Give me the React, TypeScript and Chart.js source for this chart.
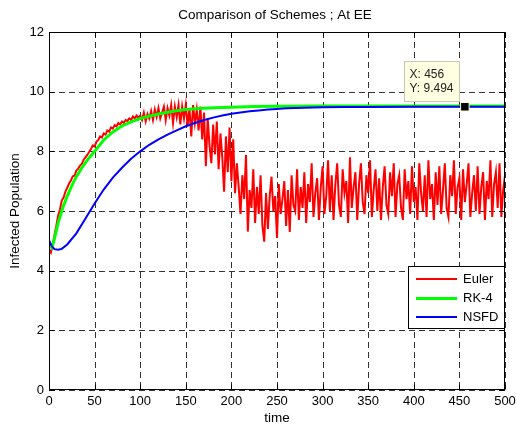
import { useEffect, useRef } from "react";
import { Chart, registerables } from "chart.js";

Chart.register(...registerables);

const chartTitle = "Comparison of Schemes ; At EE";
const xAxisTitle = "time";
const yAxisTitle = "Infected Population";
const xTicks = [0, 50, 100, 150, 200, 250, 300, 350, 400, 450, 500];
const yTicks = [0, 2, 4, 6, 8, 10, 12];

const seriesNames = ["Euler", "RK-4", "NSFD"];
const seriesColors = ["#ff0000", "#00ff00", "#0000ff"];
const seriesWidths = [2, 3, 2];

// Euler: sampled every 2 time units from t = 0
const eulerStep = 2;
const eulerValues = [
  4.7, 4.6, 4.85, 5.2, 5.5, 5.85, 6.05, 6.35, 6.45, 6.65,
  6.78, 6.92, 7.02, 7.16, 7.18, 7.36, 7.42, 7.52, 7.58, 7.72,
  7.8, 7.88, 7.98, 8.08, 8.2, 8.16, 8.32, 8.38, 8.5, 8.46,
  8.6, 8.56, 8.7, 8.66, 8.8, 8.76, 8.88, 8.84, 8.95, 8.9,
  9.0, 8.95, 9.05, 9.02, 9.1, 9.05, 9.17, 9.1, 9.2, 9.12,
  9.2, 9.05, 9.3, 9.0, 9.25, 9.1, 9.35, 9.05, 9.4, 9.15,
  9.45, 9.1, 9.3, 9.5, 9.05, 9.45, 9.2, 9.55, 8.95, 9.5,
  9.15, 9.55, 8.9, 9.5, 9.1, 9.55, 8.85, 9.45, 8.5, 9.55,
  8.95, 9.4, 8.7, 9.5, 8.4, 9.3, 7.5, 9.1, 8.2, 7.6,
  8.9, 7.9, 9.0, 7.4, 8.6, 7.8, 6.65, 8.5, 7.3, 8.8,
  7.0, 8.4, 6.6, 7.6, 6.8, 5.9, 7.2, 6.4, 7.88, 5.31,
  6.7, 6.1, 7.4, 5.6, 6.8, 5.9, 7.2, 5.5, 4.97, 6.6,
  5.4, 6.5, 7.15, 6.0, 6.5, 5.1, 6.9, 5.9, 6.4, 7.0,
  5.5, 6.7, 5.3, 7.2, 6.2, 6.0, 7.4, 5.7, 6.8, 6.1,
  7.3, 5.6, 6.9, 6.3, 7.6, 5.8, 6.6, 7.1, 5.7, 6.8,
  7.5, 5.9, 6.5, 7.7, 6.0, 7.2, 5.7, 6.9, 7.6, 6.2,
  5.8, 7.4, 6.6, 7.0, 5.6, 7.8, 6.1, 6.8, 7.3, 5.7,
  6.9, 7.6, 6.3, 5.9, 7.2, 6.6, 7.7, 5.8, 6.7, 7.4,
  6.0, 7.1, 5.7, 6.8, 7.5, 6.2, 5.9, 7.3, 6.5, 7.6,
  5.8, 6.9, 7.2, 6.1, 5.7, 7.4, 6.4, 7.0, 5.9, 7.5,
  6.3, 6.8, 5.7, 7.6, 6.6, 6.0, 7.2, 5.8, 7.7, 6.4,
  6.9, 5.7, 7.3, 6.2, 7.5, 5.9, 6.7, 7.6, 6.1, 5.8,
  7.2, 6.5, 7.7, 5.9, 6.8, 7.1, 5.7, 7.4, 6.3, 6.9,
  7.6, 5.8, 6.6, 7.2, 6.0, 7.5, 5.9, 6.8, 7.3, 5.7,
  7.0, 6.4, 7.7, 5.8, 6.9, 7.3, 6.1, 7.6, 5.8, 6.7,
  7.2,
];

const rkTime = [0, 3, 5, 10, 15, 20, 25, 30, 35, 40, 45, 50, 60, 70, 80, 90, 100, 110, 120, 130, 140, 150, 160, 180, 200, 225, 250, 300, 350, 400, 450, 500];
const rkValues = [4.95, 4.78, 4.95, 5.6, 6.1, 6.5, 6.85, 7.15, 7.4, 7.62, 7.82, 8.0, 8.38, 8.65, 8.85, 8.99, 9.1, 9.18, 9.25, 9.31, 9.36, 9.4, 9.43, 9.46, 9.48, 9.5, 9.51, 9.52, 9.52, 9.52, 9.52, 9.52];

const nsfdTime = [0, 3, 6, 10, 14, 20, 30, 40, 50, 60, 70, 80, 90, 100, 110, 120, 130, 140, 150, 160, 170, 180, 190, 200, 210, 220, 230, 240, 250, 260, 270, 280, 290, 300, 325, 350, 400, 450, 500];
const nsfdValues = [5.02, 4.82, 4.72, 4.7, 4.73, 4.88, 5.25, 5.75, 6.25, 6.72, 7.12, 7.45, 7.75, 8.0, 8.22, 8.4, 8.56, 8.7, 8.84, 8.95, 9.05, 9.13, 9.2, 9.26, 9.3, 9.34, 9.37, 9.4, 9.42, 9.44, 9.45, 9.46, 9.47, 9.48, 9.485, 9.49, 9.493, 9.494, 9.494];

const dataTipX = [456];
const dataTipY = [9.494];

const FONT = '"Liberation Sans", Arial, Helvetica, sans-serif';

const decorPlugin = {
  id: "matlabDecor",
  beforeDatasetsDraw(chart: any) {
    const { ctx, chartArea: a, scales } = chart;
    const x = scales.x;
    const y = scales.y;
    ctx.save();
    ctx.strokeStyle = "rgba(0,0,0,0.8)";
    ctx.lineWidth = 1;
    ctx.setLineDash([6, 4]);
    for (const v of xTicks) {
      const px = Math.round(x.getPixelForValue(v)) + 0.5;
      ctx.beginPath();
      ctx.moveTo(px, a.top);
      ctx.lineTo(px, a.bottom);
      ctx.stroke();
    }
    for (const v of yTicks) {
      const py = Math.round(y.getPixelForValue(v)) + 0.5;
      ctx.beginPath();
      ctx.moveTo(a.left, py);
      ctx.lineTo(a.right, py);
      ctx.stroke();
    }
    ctx.restore();
  },
  afterDatasetsDraw(chart: any) {
    const { ctx, chartArea: a, scales } = chart;
    const x = scales.x;
    const y = scales.y;
    ctx.save();
    ctx.setLineDash([]);
    // axes box
    ctx.strokeStyle = "#000";
    ctx.lineWidth = 1;
    const L = Math.round(a.left) + 0.5;
    const R = Math.round(a.right) - 0.5;
    const T = Math.round(a.top) + 0.5;
    const B = Math.round(a.bottom) - 0.5;
    ctx.strokeRect(L, T, R - L, B - T);
    // inner tick marks
    const tl = 5;
    ctx.beginPath();
    for (const v of xTicks) {
      const px = Math.round(x.getPixelForValue(v)) + 0.5;
      ctx.moveTo(px, B);
      ctx.lineTo(px, B - tl);
      ctx.moveTo(px, T);
      ctx.lineTo(px, T + tl);
    }
    for (const v of yTicks) {
      const py = Math.round(y.getPixelForValue(v)) + 0.5;
      ctx.moveTo(L, py);
      ctx.lineTo(L + tl, py);
      ctx.moveTo(R, py);
      ctx.lineTo(R - tl, py);
    }
    ctx.stroke();

    // data tip
    const tx = x.getPixelForValue(dataTipX[0]);
    const ty = y.getPixelForValue(dataTipY[0]);
    const bw = 55;
    const bh = 40;
    const bx = Math.round(tx - 6 - bw) + 0.5;
    const by = Math.round(ty - 6 - bh) + 0.5;
    ctx.fillStyle = "#ffffe1";
    ctx.fillRect(bx, by, bw, bh);
    ctx.strokeStyle = "#c8c8b4";
    ctx.strokeRect(bx, by, bw, bh);
    ctx.fillStyle = "#222";
    ctx.font = `12px ${FONT}`;
    ctx.textAlign = "left";
    ctx.textBaseline = "middle";
    ctx.fillText(`X: ${dataTipX[0]}`, bx + 5, by + 13);
    ctx.fillText(`Y: ${dataTipY[0]}`, bx + 5, by + 27);

    // legend
    const lw = 97;
    const lh = 63;
    const lx = Math.round(a.right) - lw;
    const ly = Math.round(a.bottom) - 124;
    ctx.fillStyle = "#fff";
    ctx.fillRect(lx, ly, lw, lh);
    ctx.strokeStyle = "#000";
    ctx.lineWidth = 1;
    ctx.strokeRect(lx + 0.5, ly + 0.5, lw - 1, lh - 1);
    ctx.font = `13px ${FONT}`;
    ctx.textBaseline = "middle";
    const rows = [13, 32.5, 51];
    seriesNames.forEach((name, i) => {
      const ry = ly + rows[i];
      ctx.strokeStyle = seriesColors[i];
      ctx.lineWidth = seriesWidths[i];
      ctx.beginPath();
      ctx.moveTo(lx + 8, ry);
      ctx.lineTo(lx + 49, ry);
      ctx.stroke();
      ctx.fillStyle = "#000";
      ctx.fillText(name, lx + 55, ry);
    });

    // title and axis titles
    ctx.fillStyle = "#000";
    ctx.font = `13.5px ${FONT}`;
    ctx.textAlign = "center";
    ctx.textBaseline = "middle";
    ctx.fillText(chartTitle, (a.left + a.right) / 2 - 2, 15);
    ctx.fillText(xAxisTitle, (a.left + a.right) / 2, 418);
    ctx.translate(15, (a.top + a.bottom) / 2);
    ctx.rotate(-Math.PI / 2);
    ctx.fillText(yAxisTitle, 0, 0);
    ctx.restore();
  },
};

export default function App() {
  const canvasRef = useRef<HTMLCanvasElement | null>(null);

  useEffect(() => {
    if (!canvasRef.current) return;
    const eulerData = eulerValues.map((v, i) => ({ x: i * eulerStep, y: v }));
    const rkData = rkTime.map((t, i) => ({ x: t, y: rkValues[i] }));
    const nsfdData = nsfdTime.map((t, i) => ({ x: t, y: nsfdValues[i] }));
    const tipData = dataTipX.map((t, i) => ({ x: t, y: dataTipY[i] }));

    const chart = new Chart(canvasRef.current, {
      type: "line",
      data: {
        datasets: [
          {
            label: seriesNames[0],
            data: eulerData,
            borderColor: seriesColors[0],
            borderWidth: seriesWidths[0],
            pointRadius: 0,
            tension: 0,
            order: 3,
          },
          {
            label: seriesNames[1],
            data: rkData,
            borderColor: seriesColors[1],
            borderWidth: seriesWidths[1],
            pointRadius: 0,
            tension: 0,
            order: 2,
          },
          {
            label: seriesNames[2],
            data: nsfdData,
            borderColor: seriesColors[2],
            borderWidth: seriesWidths[2],
            pointRadius: 0,
            tension: 0,
            order: 1,
          },
          {
            label: "datatip",
            data: tipData,
            showLine: false,
            pointStyle: "rect",
            pointRadius: 6,
            backgroundColor: "#000",
            borderColor: "#ffffcc",
            borderWidth: 1,
            order: 0,
          },
        ],
      },
      options: {
        animation: false,
        responsive: true,
        maintainAspectRatio: false,
        devicePixelRatio: 1,
        layout: { padding: { top: 32, right: 12, left: 0, bottom: 0 } },
        plugins: {
          legend: { display: false },
          title: { display: false },
          tooltip: { enabled: false },
        },
        events: [],
        scales: {
          x: {
            type: "linear",
            min: 0,
            max: 500,
            afterBuildTicks: (s: any) => {
              s.ticks = xTicks.map((v) => ({ value: v }));
            },
            afterFit: (s: any) => {
              s.height = 37;
              s.paddingLeft = 0;
              s.paddingRight = 0;
            },
            grid: { display: false, drawTicks: false },
            border: { display: false },
            ticks: {
              autoSkip: false,
              maxRotation: 0,
              padding: 4,
              color: "#000",
              font: { family: FONT, size: 13 },
            },
          },
          y: {
            type: "linear",
            min: 0,
            max: 12,
            afterBuildTicks: (s: any) => {
              s.ticks = yTicks.map((v) => ({ value: v }));
            },
            afterFit: (s: any) => {
              s.width = 49;
              s.paddingTop = 0;
              s.paddingBottom = 0;
            },
            grid: { display: false, drawTicks: false },
            border: { display: false },
            ticks: {
              autoSkip: false,
              padding: 5,
              color: "#000",
              font: { family: FONT, size: 13 },
            },
          },
        },
      },
      plugins: [decorPlugin],
    } as any);

    return () => chart.destroy();
  }, []);

  return (
    <div
      style={{
        position: "fixed",
        left: 0,
        top: 0,
        width: 517,
        height: 427,
        background: "#fff",
      }}
    >
      <canvas ref={canvasRef} />
    </div>
  );
}
